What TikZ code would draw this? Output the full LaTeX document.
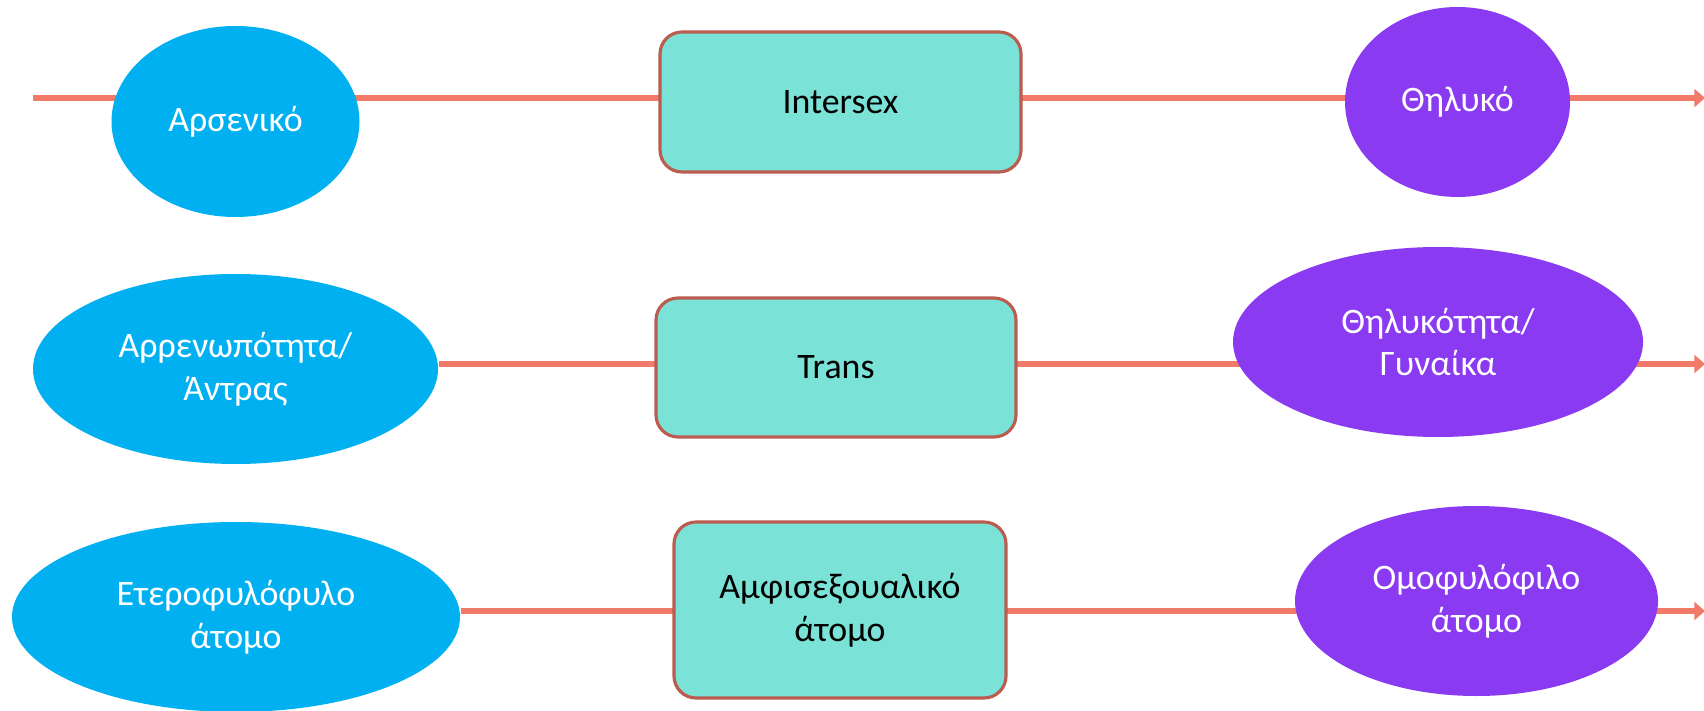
\documentclass[tikz,border=0pt]{standalone}
\usepackage{fontspec}
\setmainfont{Carlito}
\usetikzlibrary{shapes.geometric,arrows.meta,backgrounds}

\definecolor{axisred}{RGB}{241,123,104}
\definecolor{maleblue}{RGB}{0,176,240}
\definecolor{femviolet}{RGB}{138,58,240}
\definecolor{midteal}{RGB}{122,226,215}
\definecolor{boxrim}{RGB}{186,92,80}

\begin{document}
\begin{tikzpicture}[%
      maleoval/.style={ellipse, fill=maleblue, text=white, inner sep=0pt, align=center,
        font=\fontsize{10.2}{12.2}\selectfont},
      femoval/.style={ellipse, fill=femviolet, text=white, inner sep=0pt, align=center,
        font=\fontsize{10.2}{12.2}\selectfont},
      midbox/.style={rectangle, rounded corners=0.22cm, fill=midteal, draw=boxrim,
        line width=0.9pt, text=black, inner sep=0pt, align=center,
        font=\fontsize{10.2}{12.2}\selectfont},
      axisline/.style={color=axisred, line width=1.5pt,
        -{Triangle[length=3pt,width=5pt]}},
      ]
      \useasboundingbox (0,0) rectangle (17.04,7.10);

      % row 1: biological sex
      \coordinate (s1) at (0.33,6.12);
      \coordinate (t1) at (17.05,6.12);
      \node [maleoval, minimum width=2.48cm, minimum height=1.91cm] (m1) at (2.355,5.885) {Αρσενικό};
      \node [midbox, minimum width=3.61cm, minimum height=1.40cm] (i1) at (8.405,6.08) {Intersex};
      \node [femoval, minimum width=2.25cm, minimum height=1.90cm] (f1) at (14.575,6.08) {Θηλυκό};

      % row 2: gender
      \coordinate (t2) at (17.05,3.46);
      \node [maleoval, minimum width=4.05cm, minimum height=1.90cm] (m2) at (2.355,3.41) {Αρρενωπότητα/\\Άντρας};
      \node [midbox, minimum width=3.60cm, minimum height=1.39cm] (i2) at (8.36,3.425) {Trans};
      \node [femoval, minimum width=4.10cm, minimum height=1.90cm] (f2) at (14.38,3.68) {Θηλυκότητα/\\Γυναίκα};

      % row 3: orientation
      \coordinate (t3) at (17.05,0.99);
      \node [maleoval, minimum width=4.48cm, minimum height=1.90cm] (m3) at (2.36,0.93) {Ετεροφυλόφυλο\\άτομο};
      \node [midbox, minimum width=3.32cm, minimum height=1.76cm] (i3) at (8.40,1.00) {Αμφισεξουαλικό\\άτομο};
      \node [femoval, minimum width=3.63cm, minimum height=1.90cm] (f3) at (14.765,1.09) {Ομοφυλόφιλο\\άτομο};

      \begin{pgfonlayer}{background}
        \draw [axisline] (s1) -- (t1);
        \draw [axisline] (m2.east |- t2) -- (t2);
        \draw [axisline] (m3.east |- t3) -- (t3);
      \end{pgfonlayer}
\end{tikzpicture}
\end{document}
